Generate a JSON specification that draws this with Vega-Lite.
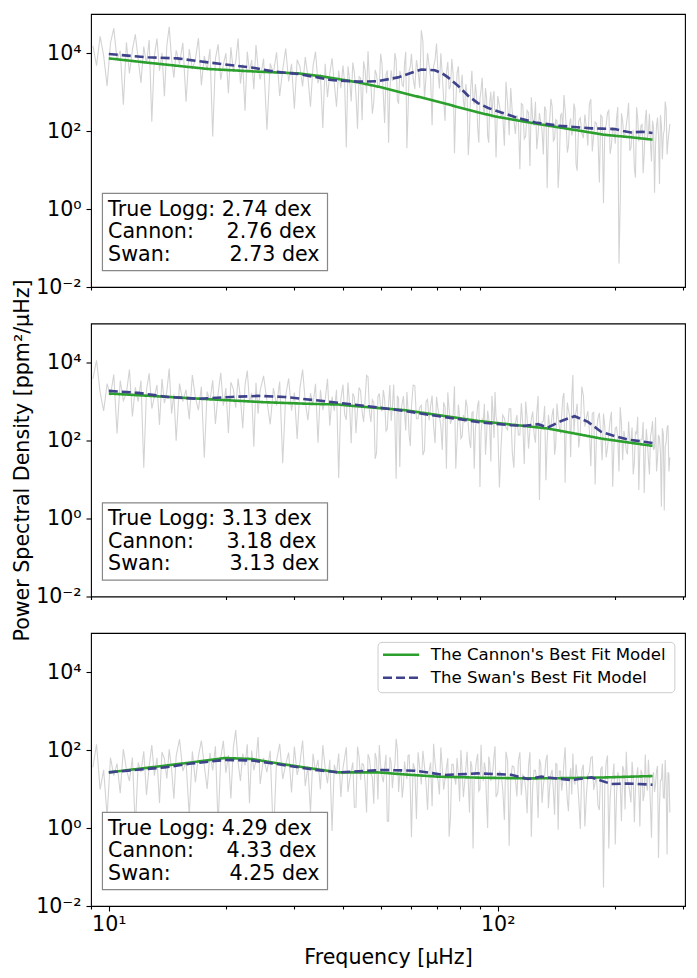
{
  "$schema": "https://vega.github.io/schema/vega-lite/v6.json",
  "padding": {"left": 11, "top": 13, "right": 10, "bottom": 6},
  "config": {
    "font": "DejaVu Sans",
    "view": {"stroke": "#000000", "strokeWidth": 1.1},
    "axis": {"grid": false, "domain": false, "tickColor": "#000000", "tickWidth": 1.1, "labelColor": "#000000", "labelFontSize": 20.6, "labelFont": "DejaVu Sans", "titleFont": "DejaVu Sans", "titleFontSize": 20.6, "titleFontWeight": "normal", "titleColor": "#000000", "labelOverlap": false}
  },
  "datasets": {
    "psd": [
      {"f":9.1,"a":15200,"b":3800,"c":36},{"f":9.3,"a":4750,"b":11400,"c":140},{"f":9.5,"a":26600,"b":1710,"c":9.8},{"f":9.7,"a":8550,"b":570,"c":31},{"f":9.9,"a":1425,"b":2850,"c":2.0},
      {"f":10.1,"a":18050,"b":1425,"c":64},{"f":10.3,"a":42750,"b":4940,"c":22},{"f":10.5,"a":6650,"b":152,"c":45},{"f":10.7,"a":11400,"b":3420,"c":7.8},{"f":10.9,"a":475,"b":1045,"c":106},
      {"f":11.1,"a":18920,"b":1650,"c":32},{"f":11.3,"a":3010,"b":6600,"c":16},{"f":11.5,"a":12040,"b":412,"c":64},{"f":11.7,"a":30100,"b":2310,"c":0.96},{"f":11.9,"a":6880,"b":990,"c":48},
      {"f":12.1,"a":1720,"b":3465,"c":27},{"f":12.3,"a":14620,"b":20,"c":93},{"f":12.5,"a":5160,"b":1980,"c":7.0},{"f":12.7,"a":21500,"b":5280,"c":38},{"f":12.9,"a":172,"b":660,"c":134},
      {"f":13.1,"a":8580,"b":1330,"c":22},{"f":13.3,"a":23400,"b":2660,"c":63},{"f":13.5,"a":3510,"b":252,"c":4.4},{"f":13.7,"a":10140,"b":3780,"c":89},{"f":13.9,"a":780,"b":910,"c":59},
      {"f":14.1,"a":15600,"b":1820,"c":18.5},{"f":14.3,"a":46800,"b":7000,"c":104},{"f":14.5,"a":7020,"b":490,"c":33},{"f":14.7,"a":2340,"b":1540,"c":5.6},{"f":14.9,"a":11700,"b":98,"c":70},
      {"f":15.2,"a":5250,"b":2875,"c":189},{"f":15.5,"a":18200,"b":1000,"c":29},{"f":15.8,"a":560,"b":2000,"c":50},{"f":16.1,"a":12600,"b":350,"c":2.1},{"f":16.4,"a":3850,"b":4750,"c":92},
      {"f":16.7,"a":7000,"b":1250,"c":15},{"f":17.0,"a":24000,"b":600,"c":70},{"f":17.3,"a":1500,"b":2400,"c":175},{"f":17.6,"a":8400,"b":36,"c":40},{"f":17.9,"a":3600,"b":1800,"c":10},
      {"f":18.2,"a":12600,"b":1020,"c":85},{"f":18.5,"a":72,"b":3480,"c":30},{"f":18.8,"a":7200,"b":264,"c":125},{"f":19.1,"a":16640,"b":1560,"c":1.1},{"f":19.4,"a":2080,"b":5460,"c":63},
      {"f":19.7,"a":4940,"b":780,"c":171},{"f":20.0,"a":9880,"b":2210,"c":26},{"f":20.3,"a":936,"b":156,"c":74},{"f":20.6,"a":14040,"b":3120,"c":5.7},{"f":20.9,"a":3380,"b":2080,"c":114},
      {"f":21.2,"a":6110,"b":690,"c":324},{"f":21.5,"a":23500,"b":3860,"c":49},{"f":21.8,"a":1645,"b":1240,"c":16},{"f":22.1,"a":5170,"b":207,"c":81},{"f":22.4,"a":329,"b":2620,"c":40},
      {"f":22.7,"a":10810,"b":6210,"c":140},{"f":23.0,"a":3360,"b":966,"c":4.3},{"f":23.3,"a":6720,"b":1656,"c":97},{"f":23.6,"a":1176,"b":69,"c":30},{"f":23.9,"a":15960,"b":3036,"c":54},
      {"f":24.2,"a":4200,"b":483,"c":216},{"f":24.5,"a":2100,"b":1932,"c":13.5},{"f":25.0,"a":7200,"b":4550,"c":63},{"f":25.5,"a":108,"b":1040,"c":27},{"f":26.0,"a":5400,"b":260,"c":95},
      {"f":26.5,"a":3060,"b":2210,"c":0.54},{"f":27.0,"a":10440,"b":780,"c":54},{"f":27.5,"a":792,"b":3250,"c":144},{"f":28.0,"a":3720,"b":26,"c":18},{"f":28.5,"a":13020,"b":1430,"c":43},
      {"f":29.0,"a":1860,"b":3900,"c":86},{"f":29.5,"a":5270,"b":585,"c":8.1},{"f":30.0,"a":372,"b":1690,"c":122},{"f":30.5,"a":6720,"b":110,"c":23},{"f":31.0,"a":4480,"b":2200,"c":46},
      {"f":31.5,"a":1400,"b":6600,"c":175},{"f":32.0,"a":7840,"b":990,"c":12},{"f":32.5,"a":2520,"b":330,"c":38},{"f":33.0,"a":420,"b":1650,"c":2.5},{"f":33.5,"a":4560,"b":825,"c":80},
      {"f":34.0,"a":10800,"b":2860,"c":28},{"f":34.5,"a":1680,"b":88,"c":56},{"f":35.0,"a":2880,"b":1980,"c":9.8},{"f":35.5,"a":120,"b":605,"c":133},{"f":36.0,"a":5280,"b":1100,"c":35},
      {"f":36.5,"a":735,"b":3800,"c":14},{"f":37.0,"a":2940,"b":238,"c":56},{"f":37.5,"a":7350,"b":1330,"c":0.84},{"f":38.0,"a":1680,"b":570,"c":42},{"f":38.5,"a":420,"b":2000,"c":24},
      {"f":39.0,"a":3570,"b":11,"c":81},{"f":39.5,"a":1260,"b":1140,"c":6.2},{"f":40.0,"a":4750,"b":2720,"c":34},{"f":40.8,"a":38,"b":340,"c":118},{"f":41.6,"a":2090,"b":808,"c":17},
      {"f":42.4,"a":5700,"b":1615,"c":48},{"f":43.2,"a":855,"b":153,"c":3.4},{"f":44.0,"a":2470,"b":2295,"c":67},{"f":44.8,"a":190,"b":552,"c":45},{"f":45.6,"a":3700,"b":1105,"c":14},
      {"f":46.4,"a":11100,"b":4250,"c":78},{"f":47.2,"a":1665,"b":298,"c":25},{"f":48.0,"a":555,"b":935,"c":4.2},{"f":48.8,"a":2775,"b":49,"c":57},{"f":49.6,"a":1388,"b":1610,"c":135},
      {"f":50.4,"a":5200,"b":560,"c":21},{"f":51.2,"a":160,"b":1120,"c":36},{"f":52.0,"a":3600,"b":196,"c":1.5},{"f":52.8,"a":1100,"b":2660,"c":66},{"f":53.6,"a":2000,"b":700,"c":10.5},
      {"f":54.4,"a":10000,"b":350,"c":42},{"f":55.2,"a":625,"b":1400,"c":105},{"f":56.0,"a":3500,"b":21,"c":24},{"f":56.8,"a":1500,"b":900,"c":6},{"f":57.6,"a":5250,"b":510,"c":51},
      {"f":58.4,"a":36,"b":1740,"c":18},{"f":59.2,"a":3600,"b":132,"c":75},{"f":60.0,"a":9600,"b":720,"c":0.58},{"f":61.2,"a":1200,"b":2520,"c":32},{"f":62.4,"a":3515,"b":360,"c":87},
      {"f":63.6,"a":38000,"b":800,"c":13},{"f":64.8,"a":666,"b":56,"c":38},{"f":66.0,"a":9990,"b":1128,"c":2.9},{"f":67.2,"a":2275,"b":752,"c":48},{"f":68.4,"a":4550,"b":235,"c":144},
      {"f":69.6,"a":17500,"b":1316,"c":22},{"f":70.8,"a":1225,"b":423,"c":7.2},{"f":72.0,"a":2860,"b":57,"c":36},{"f":73.2,"a":182,"b":722,"c":18},{"f":74.4,"a":5980,"b":1710,"c":62},
      {"f":75.6,"a":1440,"b":266,"c":1.9},{"f":76.8,"a":2880,"b":456,"c":43},{"f":78.0,"a":504,"b":19,"c":13},{"f":79.2,"a":4560,"b":836,"c":24},{"f":80.4,"a":1200,"b":112,"c":100},
      {"f":81.6,"a":600,"b":448,"c":6.2},{"f":82.8,"a":1600,"b":1120,"c":35},{"f":84.0,"a":24,"b":256,"c":15},{"f":85.2,"a":1200,"b":64,"c":52},{"f":86.4,"a":680,"b":544,"c":0.3},
      {"f":87.6,"a":1595,"b":192,"c":30},{"f":88.8,"a":121,"b":800,"c":80},{"f":90.0,"a":660,"b":6.4,"c":10},{"f":91.2,"a":2310,"b":352,"c":24},{"f":92.4,"a":252,"b":870,"c":48},
      {"f":93.6,"a":714,"b":130,"c":4.5},{"f":94.8,"a":50,"b":377,"c":68},{"f":96.0,"a":1008,"b":29,"c":16},{"f":97.2,"a":672,"b":580,"c":32},{"f":98.4,"a":210,"b":1740,"c":125},
      {"f":100,"a":784,"b":225,"c":8},{"f":102,"a":252,"b":75,"c":25},{"f":104,"a":42,"b":375,"c":1.6},{"f":106,"a":532,"b":188,"c":53},{"f":108,"a":1260,"b":650,"c":18},
      {"f":110,"a":196,"b":20,"c":37},{"f":112,"a":252,"b":450,"c":6.4},{"f":114,"a":10.5,"b":138,"c":87},{"f":116,"a":462,"b":250,"c":23},{"f":118,"a":74,"b":1000,"c":10},
      {"f":120,"a":294,"b":62,"c":40},{"f":122,"a":735,"b":350,"c":0.6},{"f":124,"a":136,"b":150,"c":30},{"f":126,"a":34,"b":525,"c":17},{"f":128,"a":289,"b":3,"c":58},
      {"f":130,"a":102,"b":300,"c":4.4},{"f":132,"a":425,"b":768,"c":22},{"f":134,"a":3.4,"b":96,"c":76},{"f":136,"a":187,"b":228,"c":11},{"f":138,"a":420,"b":456,"c":31},
      {"f":140,"a":63,"b":43,"c":2.2},{"f":142,"a":182,"b":891,"c":43},{"f":144,"a":14,"b":215,"c":29},{"f":146,"a":280,"b":429,"c":9},{"f":148,"a":840,"b":1650,"c":50},
      {"f":150,"a":126,"b":193,"c":16},{"f":152,"a":42,"b":605,"c":2.7},{"f":154,"a":210,"b":38,"c":34},{"f":156,"a":105,"b":4800,"c":81},{"f":158,"a":364,"b":440,"c":13},
      {"f":160,"a":9.6,"b":880,"c":23},{"f":163,"a":216,"b":154,"c":0.95},{"f":166,"a":66,"b":1444,"c":42},{"f":169,"a":120,"b":380,"c":6.7},{"f":172,"a":480,"b":190,"c":27},
      {"f":175,"a":30,"b":500,"c":67},{"f":178,"a":168,"b":7.5,"c":15},{"f":181,"a":72,"b":375,"c":3.8},{"f":184,"a":252,"b":145,"c":32},{"f":187,"a":1.4,"b":493,"c":0.03},
      {"f":190,"a":144,"b":37,"c":48},{"f":193,"a":336,"b":156,"c":0.3},{"f":196,"a":42,"b":546,"c":16.5},{"f":199,"a":100,"b":78,"c":45},{"f":202,"a":200,"b":221,"c":6.8},
      {"f":205,"a":0.04,"b":16,"c":19.5},{"f":208,"a":284,"b":264,"c":1.5},{"f":211,"a":68,"b":176,"c":30},{"f":214,"a":137,"b":55,"c":90},{"f":217,"a":525,"b":308,"c":13.5},
      {"f":220,"a":37,"b":99,"c":4.5},{"f":223,"a":101,"b":13.5,"c":21},{"f":226,"a":6.4,"b":171,"c":10.5},{"f":229,"a":212,"b":405,"c":36},{"f":232,"a":74,"b":63,"c":1.1},
      {"f":235,"a":147,"b":108,"c":25},{"f":238,"a":26,"b":4.5,"c":7.7},{"f":241,"a":350,"b":198,"c":14},{"f":244,"a":92,"b":32,"c":56},{"f":247,"a":46,"b":126,"c":3.5},
      {"f":250,"a":184,"b":315,"c":20},{"f":253,"a":2.6,"b":66,"c":8.4},{"f":256,"a":132,"b":16,"c":29},{"f":259,"a":75,"b":139,"c":0.17},{"f":262,"a":255,"b":49,"c":17},
      {"f":265,"a":19,"b":205,"c":45},{"f":268,"a":106,"b":1.6,"c":5.6},{"f":271,"a":370,"b":90,"c":13},{"f":274,"a":53,"b":246,"c":27},{"f":277,"a":150,"b":37,"c":2.5},
      {"f":40.4,"a":1710,"b":468,"c":64},{"f":41.2,"a":4560,"b":3060,"c":8.4},{"f":42.0,"a":570,"b":85,"c":28},{"f":42.8,"a":3040,"b":1275,"c":3.4},{"f":43.6,"a":114,"b":638,"c":123},
      {"f":44.4,"a":2280,"b":1870,"c":17},{"f":45.2,"a":6105,"b":298,"c":42},{"f":46.0,"a":925,"b":4675,"c":2.5},{"f":46.8,"a":1850,"b":553,"c":59},{"f":47.6,"a":278,"b":1105,"c":20},
      {"f":48.4,"a":3700,"b":34,"c":84},{"f":49.2,"a":1295,"b":1330,"c":5.4},{"f":50.0,"a":9600,"b":665,"c":40},{"f":50.8,"a":800,"b":1960,"c":15},{"f":51.6,"a":2800,"b":175,"c":75},
      {"f":52.4,"a":50,"b":840,"c":1.5},{"f":53.2,"a":3600,"b":315,"c":48},{"f":54.0,"a":2125,"b":2730,"c":27},{"f":54.8,"a":6500,"b":10.5,"c":195},{"f":55.6,"a":500,"b":1190,"c":8.4},
      {"f":56.4,"a":2750,"b":560,"c":32},{"f":57.2,"a":1375,"b":1380,"c":12},{"f":58.0,"a":10800,"b":180,"c":27},{"f":58.8,"a":300,"b":600,"c":72},{"f":59.6,"a":4500,"b":72,"c":9},
      {"f":60.6,"a":2250,"b":2640,"c":46},{"f":61.8,"a":6600,"b":360,"c":1.7},{"f":63.0,"a":1295,"b":705,"c":35},{"f":64.2,"a":20350,"b":42,"c":96},{"f":65.4,"a":2405,"b":987,"c":14.5},
      {"f":66.6,"a":4810,"b":329,"c":29},{"f":67.8,"a":140,"b":1410,"c":3.6},{"f":69.0,"a":6650,"b":85,"c":48},{"f":70.2,"a":3325,"b":635,"c":17},{"f":71.4,"a":9800,"b":235,"c":115},
      {"f":72.6,"a":650,"b":950,"c":9.6},{"f":73.8,"a":3120,"b":19,"c":34},{"f":75.0,"a":1170,"b":608,"c":0.6},{"f":76.2,"a":7020,"b":342,"c":43},{"f":77.4,"a":27,"b":2470,"c":20},
      {"f":78.6,"a":3060,"b":106,"c":62},{"f":79.8,"a":960,"b":399,"c":4.8},{"f":81.0,"a":2760,"b":128,"c":27.5},{"f":82.2,"a":360,"b":288,"c":14},{"f":83.4,"a":800,"b":768,"c":90},
      {"f":84.6,"a":96,"b":96,"c":2.5},{"f":85.8,"a":3520,"b":512,"c":37},{"f":87.0,"a":480,"b":19,"c":19},{"f":88.2,"a":825,"b":384,"c":55},{"f":89.4,"a":50,"b":1056,"c":8.8},
      {"f":90.6,"a":1155,"b":160,"c":137},{"f":91.8,"a":385,"b":320,"c":16},{"f":93.0,"a":1260,"b":43,"c":32},{"f":94.2,"a":76,"b":580,"c":1.0},{"f":95.4,"a":567,"b":203,"c":47},
      {"f":96.6,"a":210,"b":1392,"c":24},{"f":97.8,"a":1050,"b":116,"c":70},{"f":99.0,"a":21,"b":406,"c":6.2},
      {"f":101,"a":448,"b":6.2,"c":28},{"f":103,"a":252,"b":450,"c":10},{"f":105,"a":1820,"b":212,"c":90},{"f":107,"a":78,"b":650,"c":0.35},{"f":109,"a":294,"b":50,"c":39},
      {"f":111,"a":84,"b":275,"c":18},{"f":113,"a":189,"b":138,"c":53},{"f":115,"a":504,"b":900,"c":6.9},{"f":117,"a":63,"b":25,"c":20},{"f":119,"a":336,"b":375,"c":2.4},
      {"f":121,"a":12.6,"b":188,"c":88},{"f":123,"a":204,"b":550,"c":12},{"f":125,"a":561,"b":88,"c":30},{"f":127,"a":85,"b":1375,"c":1.8},{"f":129,"a":170,"b":163,"c":42},
      {"f":131,"a":25,"b":312,"c":12.6},{"f":133,"a":340,"b":9.6,"c":54},{"f":135,"a":119,"b":456,"c":3.2},{"f":137,"a":672,"b":228,"c":24},{"f":139,"a":56,"b":672,"c":9},
      {"f":141,"a":196,"b":82,"c":45},{"f":143,"a":3.5,"b":396,"c":0.9},{"f":145,"a":252,"b":149,"c":29},{"f":147,"a":119,"b":1287,"c":16},{"f":149,"a":364,"b":8.2,"c":117},
      {"f":151,"a":28,"b":935,"c":5},{"f":153,"a":154,"b":440,"c":19},{"f":155,"a":77,"b":1265,"c":7.2},{"f":157,"a":504,"b":165,"c":16},{"f":159,"a":14,"b":550,"c":43},
      {"f":161.5,"a":180,"b":66,"c":5.7},{"f":164.5,"a":90,"b":2420,"c":30},{"f":167.5,"a":264,"b":228,"c":1.1},{"f":170.5,"a":42,"b":570,"c":23},{"f":173.5,"a":660,"b":22,"c":63},
      {"f":176.5,"a":78,"b":525,"c":9.5},{"f":179.5,"a":156,"b":175,"c":19},{"f":182.5,"a":4.8,"b":510,"c":2.9},{"f":185.5,"a":228,"b":31,"c":38},{"f":188.5,"a":114,"b":230,"c":13},
      {"f":191.5,"a":294,"b":65,"c":72},{"f":194.5,"a":26,"b":325,"c":6},{"f":197.5,"a":126,"b":6.5,"c":21},{"f":200.5,"a":47,"b":208,"c":0.38},{"f":203.5,"a":410,"b":117,"c":27},
      {"f":206.5,"a":1.6,"b":715,"c":13},{"f":209.5,"a":178,"b":31,"c":39},{"f":212.5,"a":84,"b":116,"c":3},{"f":215.5,"a":242,"b":44,"c":16.5},{"f":218.5,"a":31,"b":99,"c":8.2},
      {"f":221.5,"a":92,"b":216,"c":50},{"f":224.5,"a":11,"b":27,"c":1.4},{"f":227.5,"a":405,"b":144,"c":21},{"f":230.5,"a":55,"b":5.4,"c":10.5},{"f":233.5,"a":138,"b":108,"c":31},
      {"f":236.5,"a":8.3,"b":297,"c":4.9},{"f":239.5,"a":193,"b":45,"c":77},{"f":242.5,"a":64,"b":90,"c":9.1},{"f":245.5,"a":276,"b":13.5,"c":18},{"f":248.5,"a":16.6,"b":180,"c":0.56},
      {"f":251.5,"a":119,"b":57,"c":27},{"f":254.5,"a":44,"b":394,"c":13},{"f":257.5,"a":220,"b":33,"c":39},{"f":260.5,"a":4.4,"b":115,"c":3.5},{"f":263.5,"a":141,"b":2,"c":17},
      {"f":266.5,"a":79,"b":148,"c":6.3},{"f":269.5,"a":572,"b":70,"c":55},{"f":272.5,"a":25,"b":213,"c":0.21},{"f":275.5,"a":92,"b":16,"c":24}
    ],
    "model": [
      {"p":1,"m":"c","f":10,"v":7280},{"p":1,"m":"c","f":12.6,"v":5640},{"p":1,"m":"c","f":15,"v":4700},{"p":1,"m":"c","f":18,"v":3890},{"p":1,"m":"c","f":23.5,"v":3370},
      {"p":1,"m":"c","f":30.7,"v":3000},{"p":1,"m":"c","f":35,"v":2550},{"p":1,"m":"c","f":38.9,"v":2150},{"p":1,"m":"c","f":43.8,"v":1760},{"p":1,"m":"c","f":50,"v":1330},
      {"p":1,"m":"c","f":55.4,"v":1020},{"p":1,"m":"c","f":70.2,"v":564},{"p":1,"m":"c","f":88.9,"v":300},{"p":1,"m":"c","f":100,"v":229},{"p":1,"m":"c","f":127,"v":151},
      {"p":1,"m":"c","f":160,"v":104},{"p":1,"m":"c","f":188,"v":80},{"p":1,"m":"c","f":220,"v":69},{"p":1,"m":"c","f":250,"v":60},
      {"p":1,"m":"s","f":10,"v":9420},{"p":1,"m":"s","f":12.6,"v":7760},{"p":1,"m":"s","f":15,"v":7280},{"p":1,"m":"s","f":18,"v":5740},{"p":1,"m":"s","f":23.5,"v":4200},
      {"p":1,"m":"s","f":26.7,"v":3310},{"p":1,"m":"s","f":30.7,"v":2900},{"p":1,"m":"s","f":37.3,"v":2030},{"p":1,"m":"s","f":43.8,"v":1840},{"p":1,"m":"s","f":49.2,"v":1900},
      {"p":1,"m":"s","f":55.4,"v":2370},{"p":1,"m":"s","f":60,"v":3100},{"p":1,"m":"s","f":63.6,"v":3780},{"p":1,"m":"s","f":68.9,"v":3600},{"p":1,"m":"s","f":72,"v":3000},
      {"p":1,"m":"s","f":74.5,"v":2370},{"p":1,"m":"s","f":79,"v":1450},{"p":1,"m":"s","f":83.9,"v":803},{"p":1,"m":"s","f":88.9,"v":520},{"p":1,"m":"s","f":94.5,"v":390},
      {"p":1,"m":"s","f":103,"v":290},{"p":1,"m":"s","f":112.8,"v":215},{"p":1,"m":"s","f":125,"v":165},{"p":1,"m":"s","f":142.9,"v":137},{"p":1,"m":"s","f":160,"v":125},
      {"p":1,"m":"s","f":174,"v":117},{"p":1,"m":"s","f":185,"v":115},{"p":1,"m":"s","f":200,"v":112},{"p":1,"m":"s","f":210,"v":100},{"p":1,"m":"s","f":220,"v":92},
      {"p":1,"m":"s","f":235,"v":96},{"p":1,"m":"s","f":250,"v":89},
      {"p":2,"m":"c","f":10,"v":1600},{"p":2,"m":"c","f":18,"v":1145},{"p":2,"m":"c","f":25,"v":960},{"p":2,"m":"c","f":33,"v":870},{"p":2,"m":"c","f":38.9,"v":837},
      {"p":2,"m":"c","f":41.2,"v":790},{"p":2,"m":"c","f":57.7,"v":599},{"p":2,"m":"c","f":70,"v":451},{"p":2,"m":"c","f":88.9,"v":318},{"p":2,"m":"c","f":110,"v":252},
      {"p":2,"m":"c","f":134.5,"v":203},{"p":2,"m":"c","f":160,"v":147},{"p":2,"m":"c","f":184.6,"v":112},{"p":2,"m":"c","f":215,"v":90},{"p":2,"m":"c","f":250,"v":72.8},
      {"p":2,"m":"s","f":10,"v":1870},{"p":2,"m":"s","f":11.9,"v":1660},{"p":2,"m":"s","f":14.2,"v":1310},{"p":2,"m":"s","f":17,"v":1170},{"p":2,"m":"s","f":20.7,"v":1310},
      {"p":2,"m":"s","f":24.2,"v":1390},{"p":2,"m":"s","f":28.3,"v":1310},{"p":2,"m":"s","f":33.9,"v":1080},{"p":2,"m":"s","f":40.4,"v":889},{"p":2,"m":"s","f":49.2,"v":701},
      {"p":2,"m":"s","f":57.7,"v":574},{"p":2,"m":"s","f":67.4,"v":446},{"p":2,"m":"s","f":77.5,"v":366},{"p":2,"m":"s","f":90.6,"v":290},{"p":2,"m":"s","f":108.3,"v":247},
      {"p":2,"m":"s","f":117,"v":237},{"p":2,"m":"s","f":127,"v":262},{"p":2,"m":"s","f":134.5,"v":215},{"p":2,"m":"s","f":145.7,"v":318},{"p":2,"m":"s","f":157.6,"v":420},
      {"p":2,"m":"s","f":170.6,"v":300},{"p":2,"m":"s","f":184.6,"v":166},{"p":2,"m":"s","f":200,"v":129},{"p":2,"m":"s","f":216,"v":106},{"p":2,"m":"s","f":250,"v":86.7},
      {"p":3,"m":"c","f":10,"v":26.7},{"p":3,"m":"c","f":13.9,"v":39.5},{"p":3,"m":"c","f":16.3,"v":48},{"p":3,"m":"c","f":19.9,"v":62.4},{"p":3,"m":"c","f":23.3,"v":58.7},
      {"p":3,"m":"c","f":27.8,"v":43.8},{"p":3,"m":"c","f":33.9,"v":32.6},{"p":3,"m":"c","f":38.9,"v":26.7},{"p":3,"m":"c","f":49.2,"v":26.7},{"p":3,"m":"c","f":58,"v":23.5},
      {"p":3,"m":"c","f":70.2,"v":20.7},{"p":3,"m":"c","f":90,"v":19.5},{"p":3,"m":"c","f":119.6,"v":18.7},{"p":3,"m":"c","f":150,"v":19},{"p":3,"m":"c","f":188,"v":19.8},
      {"p":3,"m":"c","f":250,"v":21.5},
      {"p":3,"m":"s","f":10,"v":26.7},{"p":3,"m":"s","f":13.9,"v":35.8},{"p":3,"m":"s","f":16.3,"v":45},{"p":3,"m":"s","f":19.9,"v":55.5},{"p":3,"m":"s","f":23.3,"v":54},
      {"p":3,"m":"s","f":27.8,"v":42},{"p":3,"m":"s","f":33.9,"v":31},{"p":3,"m":"s","f":38.9,"v":26.7},{"p":3,"m":"s","f":50.2,"v":30.7},{"p":3,"m":"s","f":61.2,"v":29.5},
      {"p":3,"m":"s","f":73.1,"v":22.9},{"p":3,"m":"s","f":88.9,"v":25.1},{"p":3,"m":"s","f":108.3,"v":23.2},{"p":3,"m":"s","f":119.6,"v":18.0},{"p":3,"m":"s","f":129.4,"v":20.7},
      {"p":3,"m":"s","f":154.5,"v":17.0},{"p":3,"m":"s","f":174,"v":19.8},{"p":3,"m":"s","f":196,"v":13.4},{"p":3,"m":"s","f":216,"v":13.8},{"p":3,"m":"s","f":250,"v":12.9}
    ],
    "box": [{"f":9.63,"f2":36.5,"v":2.51,"v2":0.0262}],
    "notes": [
      {"p":1,"f":9.96,"v":0.673,"t":"True Logg: 2.74 dex"},
      {"p":1,"f":9.96,"v":0.176,"t":"Cannon:\u00a0\u00a0\u00a0\u00a0\u00a02.76 dex"},
      {"p":1,"f":9.96,"v":0.0472,"t":"Swan:\u00a0\u00a0\u00a0\u00a0\u00a0\u00a0\u00a0\u00a0\u00a02.73 dex"},
      {"p":2,"f":9.96,"v":0.673,"t":"True Logg: 3.13 dex"},
      {"p":2,"f":9.96,"v":0.176,"t":"Cannon:\u00a0\u00a0\u00a0\u00a0\u00a03.18 dex"},
      {"p":2,"f":9.96,"v":0.0472,"t":"Swan:\u00a0\u00a0\u00a0\u00a0\u00a0\u00a0\u00a0\u00a0\u00a03.13 dex"},
      {"p":3,"f":9.96,"v":0.673,"t":"True Logg: 4.29 dex"},
      {"p":3,"f":9.96,"v":0.176,"t":"Cannon:\u00a0\u00a0\u00a0\u00a0\u00a04.33 dex"},
      {"p":3,"f":9.96,"v":0.0472,"t":"Swan:\u00a0\u00a0\u00a0\u00a0\u00a0\u00a0\u00a0\u00a0\u00a04.25 dex"}
    ],
    "legbox": [{"f":49.23,"f2":285.3,"v":57400,"v2":2945}],
    "legend": [
      {"m":"c","f":50.7,"f2":62.8,"ft":67.3,"v":27800,"t":"The Cannon's Best Fit Model"},
      {"m":"s","f":50.7,"f2":62.8,"ft":67.3,"v":7150,"t":"The Swan's Best Fit Model"}
    ]
  },
  "bounds": "flush",
  "spacing": 36.5,
  "vconcat": [
    {
      "width": 594, "height": 273,
      "layer": [
        {"data": {"name": "psd"}, "mark": {"type": "line", "color": "#d3d3d3", "strokeWidth": 1.1, "clip": true},
          "encoding": {
            "x": {"field": "f", "type": "quantitative", "title": null, "scale": {"type": "log", "domain": [9.0, 303], "nice": false},
              "axis": {"values": [9, 20, 30, 40, 50, 60, 70, 80, 90, 200, 300], "labels": false, "tickSize": 3}},
            "y": {"field": "a", "type": "quantitative", "title": null, "scale": {"type": "log", "domain": [0.01, 100000], "nice": false},
              "axis": {"values": [0.01, 1, 100, 10000], "tickSize": 5, "labelPadding": 5, "labelExpr": "datum.value < 0.1 ? '10⁻²' : datum.value < 10 ? '10⁰' : datum.value < 1000 ? '10²' : '10⁴'"}}
          }},
        {"data": {"name": "model"}, "transform": [{"filter": "datum.p == 1"}], "mark": {"type": "line", "strokeWidth": 2.6, "clip": true},
          "encoding": {
            "x": {"field": "f", "type": "quantitative", "title": null},
            "y": {"field": "v", "type": "quantitative", "title": null},
            "color": {"field": "m", "type": "nominal", "scale": {"domain": ["c", "s"], "range": ["#2ca02c", "#3d428b"]}, "legend": null},
            "strokeDash": {"field": "m", "type": "nominal", "scale": {"domain": ["c", "s"], "range": [[1, 0], [9, 4]]}, "legend": null}
          }},
        {"data": {"name": "box"}, "mark": {"type": "rect", "fill": "white", "stroke": "#888888", "strokeWidth": 1.2},
          "encoding": {
            "x": {"field": "f", "type": "quantitative", "title": null}, "x2": {"field": "f2"},
            "y": {"field": "v", "type": "quantitative", "title": null}, "y2": {"field": "v2"}
          }},
        {"data": {"name": "notes"}, "transform": [{"filter": "datum.p == 1"}], "mark": {"type": "text", "align": "left", "baseline": "alphabetic", "fontSize": 20.6, "font": "DejaVu Sans", "color": "#000000"},
          "encoding": {
            "x": {"field": "f", "type": "quantitative", "title": null},
            "y": {"field": "v", "type": "quantitative", "title": null},
            "text": {"field": "t"}
          }}
      ]
    },
    {
      "width": 594, "height": 273,
      "layer": [
        {"data": {"name": "psd"}, "mark": {"type": "line", "color": "#d3d3d3", "strokeWidth": 1.1, "clip": true},
          "encoding": {
            "x": {"field": "f", "type": "quantitative", "title": null, "scale": {"type": "log", "domain": [9.0, 303], "nice": false},
              "axis": {"values": [9, 20, 30, 40, 50, 60, 70, 80, 90, 200, 300], "labels": false, "tickSize": 3}},
            "y": {"field": "b", "type": "quantitative", "title": "Power Spectral Density [ppm²/μHz]", "scale": {"type": "log", "domain": [0.01, 100000], "nice": false},
              "axis": {"values": [0.01, 1, 100, 10000], "tickSize": 5, "labelPadding": 5, "titleX": -69, "titleY": 136.5, "titleAngle": -90, "titleBaseline": "middle", "titleAlign": "center", "labelExpr": "datum.value < 0.1 ? '10⁻²' : datum.value < 10 ? '10⁰' : datum.value < 1000 ? '10²' : '10⁴'"}}
          }},
        {"data": {"name": "model"}, "transform": [{"filter": "datum.p == 2"}], "mark": {"type": "line", "strokeWidth": 2.6, "clip": true},
          "encoding": {
            "x": {"field": "f", "type": "quantitative", "title": null},
            "y": {"field": "v", "type": "quantitative", "title": "Power Spectral Density [ppm²/μHz]"},
            "color": {"field": "m", "type": "nominal", "scale": {"domain": ["c", "s"], "range": ["#2ca02c", "#3d428b"]}, "legend": null},
            "strokeDash": {"field": "m", "type": "nominal", "scale": {"domain": ["c", "s"], "range": [[1, 0], [9, 4]]}, "legend": null}
          }},
        {"data": {"name": "box"}, "mark": {"type": "rect", "fill": "white", "stroke": "#888888", "strokeWidth": 1.2},
          "encoding": {
            "x": {"field": "f", "type": "quantitative", "title": null}, "x2": {"field": "f2"},
            "y": {"field": "v", "type": "quantitative", "title": "Power Spectral Density [ppm²/μHz]"}, "y2": {"field": "v2"}
          }},
        {"data": {"name": "notes"}, "transform": [{"filter": "datum.p == 2"}], "mark": {"type": "text", "align": "left", "baseline": "alphabetic", "fontSize": 20.6, "font": "DejaVu Sans", "color": "#000000"},
          "encoding": {
            "x": {"field": "f", "type": "quantitative", "title": null},
            "y": {"field": "v", "type": "quantitative", "title": "Power Spectral Density [ppm²/μHz]"},
            "text": {"field": "t"}
          }}
      ]
    },
    {
      "width": 594, "height": 273,
      "layer": [
        {"data": {"name": "psd"}, "mark": {"type": "line", "color": "#d3d3d3", "strokeWidth": 1.1, "clip": true},
          "encoding": {
            "x": {"field": "f", "type": "quantitative", "title": "Frequency [μHz]", "scale": {"type": "log", "domain": [9.0, 303], "nice": false},
              "axis": {"values": [9, 10, 20, 30, 40, 50, 60, 70, 80, 90, 100, 200, 300], "tickSize": {"condition": {"test": "datum.value == 10 || datum.value == 100", "value": 5}, "value": 3}, "labelPadding": 3, "titlePadding": 13, "labelExpr": "datum.value == 10 ? '10¹' : datum.value == 100 ? '10²' : ''"}},
            "y": {"field": "c", "type": "quantitative", "title": null, "scale": {"type": "log", "domain": [0.01, 100000], "nice": false},
              "axis": {"values": [0.01, 1, 100, 10000], "tickSize": 5, "labelPadding": 5, "labelExpr": "datum.value < 0.1 ? '10⁻²' : datum.value < 10 ? '10⁰' : datum.value < 1000 ? '10²' : '10⁴'"}}
          }},
        {"data": {"name": "model"}, "transform": [{"filter": "datum.p == 3"}], "mark": {"type": "line", "strokeWidth": 2.6, "clip": true},
          "encoding": {
            "x": {"field": "f", "type": "quantitative", "title": "Frequency [μHz]"},
            "y": {"field": "v", "type": "quantitative", "title": null},
            "color": {"field": "m", "type": "nominal", "scale": {"domain": ["c", "s"], "range": ["#2ca02c", "#3d428b"]}, "legend": null},
            "strokeDash": {"field": "m", "type": "nominal", "scale": {"domain": ["c", "s"], "range": [[1, 0], [9, 4]]}, "legend": null}
          }},
        {"data": {"name": "box"}, "mark": {"type": "rect", "fill": "white", "stroke": "#888888", "strokeWidth": 1.2},
          "encoding": {
            "x": {"field": "f", "type": "quantitative", "title": "Frequency [μHz]"}, "x2": {"field": "f2"},
            "y": {"field": "v", "type": "quantitative", "title": null}, "y2": {"field": "v2"}
          }},
        {"data": {"name": "notes"}, "transform": [{"filter": "datum.p == 3"}], "mark": {"type": "text", "align": "left", "baseline": "alphabetic", "fontSize": 20.6, "font": "DejaVu Sans", "color": "#000000"},
          "encoding": {
            "x": {"field": "f", "type": "quantitative", "title": "Frequency [μHz]"},
            "y": {"field": "v", "type": "quantitative", "title": null},
            "text": {"field": "t"}
          }},
        {"data": {"name": "legbox"}, "mark": {"type": "rect", "fill": "white", "fillOpacity": 0.8, "stroke": "#cccccc", "strokeWidth": 1, "cornerRadius": 4},
          "encoding": {
            "x": {"field": "f", "type": "quantitative", "title": "Frequency [μHz]"}, "x2": {"field": "f2"},
            "y": {"field": "v", "type": "quantitative", "title": null}, "y2": {"field": "v2"}
          }},
        {"data": {"name": "legend"}, "mark": {"type": "rule", "strokeWidth": 2.6},
          "encoding": {
            "x": {"field": "f", "type": "quantitative", "title": "Frequency [μHz]"}, "x2": {"field": "f2"},
            "y": {"field": "v", "type": "quantitative", "title": null},
            "color": {"field": "m", "type": "nominal", "scale": {"domain": ["c", "s"], "range": ["#2ca02c", "#3d428b"]}, "legend": null},
            "strokeDash": {"field": "m", "type": "nominal", "scale": {"domain": ["c", "s"], "range": [[1, 0], [7, 5]]}, "legend": null}
          }},
        {"data": {"name": "legend"}, "mark": {"type": "text", "align": "left", "baseline": "middle", "fontSize": 16.6, "font": "DejaVu Sans", "color": "#000000"},
          "encoding": {
            "x": {"field": "ft", "type": "quantitative", "title": "Frequency [μHz]"},
            "y": {"field": "v", "type": "quantitative", "title": null},
            "text": {"field": "t"}
          }}
      ]
    }
  ]
}
